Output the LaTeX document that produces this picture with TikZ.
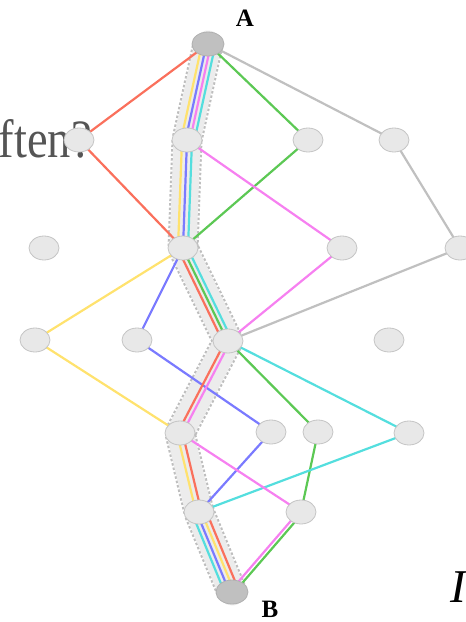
\documentclass[tikz,border=0pt]{standalone}
\usepackage{fontspec}
\setmainfont{Liberation Serif}
\usetikzlibrary{shapes.geometric,backgrounds}
\definecolor{cred}{RGB}{250,112,92}
\definecolor{cyel}{RGB}{255,226,110}
\definecolor{cblu}{RGB}{122,122,255}
\definecolor{cmag}{RGB}{246,128,240}
\definecolor{ccya}{RGB}{84,222,222}
\definecolor{cgrn}{RGB}{92,200,84}
\definecolor{cgry}{RGB}{192,192,192}
\definecolor{nodefill}{RGB}{232,232,232}
\definecolor{nodeedge}{RGB}{196,196,196}
\definecolor{endfill}{RGB}{192,192,192}
\definecolor{endedge}{RGB}{176,176,176}
\definecolor{bandin}{RGB}{236,236,236}
\definecolor{bandedge}{RGB}{190,190,190}
\definecolor{txtgray}{RGB}{85,85,85}
\tikzset{
  vtx/.style={ellipse, minimum width=30pt, minimum height=24pt, inner sep=0pt, fill=nodefill, draw=nodeedge, line width=0.8pt},
  endv/.style={vtx, minimum width=32pt, fill=endfill, draw=endedge},
  ln/.style={line width=2.2pt},
  lbl/.style={font=\fontsize{25}{25}\selectfont\bfseries},
  bandout/.style={line width=31pt, draw=bandedge, dash pattern=on 2.5pt off 2pt, line join=round},
  bandmid/.style={line width=27pt, draw=bandin, line join=round, line cap=round}
}
\begin{document}
\begin{tikzpicture}[x=1pt,y=-1pt]
\useasboundingbox (0,0) rectangle (466,622);
% background texts
\node[anchor=base east, text=txtgray, font=\fontsize{54}{54}\selectfont, inner sep=0pt] (tq) at (92,157) {\scalebox{0.86}[1]{ften?}};
\node[anchor=base west, font=\fontsize{47}{47}\selectfont\itshape, inner sep=0pt] (ti) at (450,602) {I};
% vertices
\node[endv] (A) at (208,44) {};
\node[vtx] (n1) at (79,140) {};
\node[vtx] (n2) at (187,140) {};
\node[vtx] (n3) at (308,140) {};
\node[vtx] (n4) at (394,140) {};
\node[vtx] (n5) at (44,248) {};
\node[vtx] (n6) at (183,248) {};
\node[vtx] (n7) at (342,248) {};
\node[vtx] (n8) at (460,248) {};
\node[vtx] (n9) at (35,340) {};
\node[vtx] (n10) at (137,340) {};
\node[vtx] (n11) at (228,341) {};
\node[vtx] (n12) at (389,340) {};
\node[vtx] (n13) at (180,433) {};
\node[vtx] (n14) at (271,432) {};
\node[vtx] (n15) at (318,432) {};
\node[vtx] (n16) at (409,433) {};
\node[vtx] (n17) at (199,512) {};
\node[vtx] (n18) at (301,512) {};
\node[endv] (B) at (232,592) {};
\node[lbl] (la) at (245,18) {A};
\node[lbl] (lb) at (270,609) {B};
\begin{scope}[on background layer]
% highlighted band
\draw[bandout] (A.center) -- (n2.center) -- (n6.center) -- (n11.center) -- (n13.center) -- (n17.center) -- (B.center);
\draw[bandmid] (A.center) -- (n2.center) -- (n6.center) -- (n11.center) -- (n13.center) -- (n17.center) -- (B.center);
% single edges
\draw[ln, cred] (A.center) -- (n1.center) -- (n6.center);
\draw[ln, cgrn] (A.center) -- (n3.center) -- (n6.center);
\draw[ln, cgry] (A.center) -- (n4.center) -- (n8.center) -- (n11.center);
\draw[ln, cmag] (n2.center) -- (n7.center) -- (n11.center);
\draw[ln, cyel] (n6.center) -- (n9.center) -- (n13.center);
\draw[ln, cblu] (n6.center) -- (n10.center) -- (n14.center) -- (n17.center);
\draw[ln, cgrn] (n11.center) -- (n15.center) -- (n18.center);
\draw[ln, ccya] (n11.center) -- (n16.center) -- (n17.center);
\draw[ln, cmag] (n13.center) -- (n18.center);
\draw[ln, cmag, transform canvas={xshift=-2.5pt}] (n18.center) -- (B.center);
\draw[ln, cgrn, transform canvas={xshift=2.5pt}] (n18.center) -- (B.center);
% bundle A - n2
\draw[ln, cyel, transform canvas={xshift=-6pt}] (A.center) -- (n2.center);
\draw[ln, cblu, transform canvas={xshift=-1.5pt}] (A.center) -- (n2.center);
\draw[ln, cmag, transform canvas={xshift=3pt}] (A.center) -- (n2.center);
\draw[ln, ccya, transform canvas={xshift=7.5pt}] (A.center) -- (n2.center);
% bundle n2 - n6
\draw[ln, cyel, transform canvas={xshift=-5pt}] (n2.center) -- (n6.center);
\draw[ln, cblu, transform canvas={xshift=0pt}] (n2.center) -- (n6.center);
\draw[ln, ccya, transform canvas={xshift=5pt}] (n2.center) -- (n6.center);
% bundle n6 - n11
\draw[ln, cred, transform canvas={xshift=-5.5pt}] (n6.center) -- (n11.center);
\draw[ln, cgrn, transform canvas={xshift=-0.5pt}] (n6.center) -- (n11.center);
\draw[ln, ccya, transform canvas={xshift=4.5pt}] (n6.center) -- (n11.center);
% bundle n11 - n13
\draw[ln, cred, transform canvas={xshift=-2.5pt}] (n11.center) -- (n13.center);
\draw[ln, cmag, transform canvas={xshift=2.5pt}] (n11.center) -- (n13.center);
% bundle n13 - n17
\draw[ln, cyel, transform canvas={xshift=-3pt}] (n13.center) -- (n17.center);
\draw[ln, cred, transform canvas={xshift=2.5pt}] (n13.center) -- (n17.center);
% bundle n17 - B
\draw[ln, ccya, transform canvas={xshift=-7.5pt}] (n17.center) -- (B.center);
\draw[ln, cblu, transform canvas={xshift=-2.5pt}] (n17.center) -- (B.center);
\draw[ln, cyel, transform canvas={xshift=2.5pt}] (n17.center) -- (B.center);
\draw[ln, cred, transform canvas={xshift=7.5pt}] (n17.center) -- (B.center);
\end{scope}
\end{tikzpicture}
\end{document}
